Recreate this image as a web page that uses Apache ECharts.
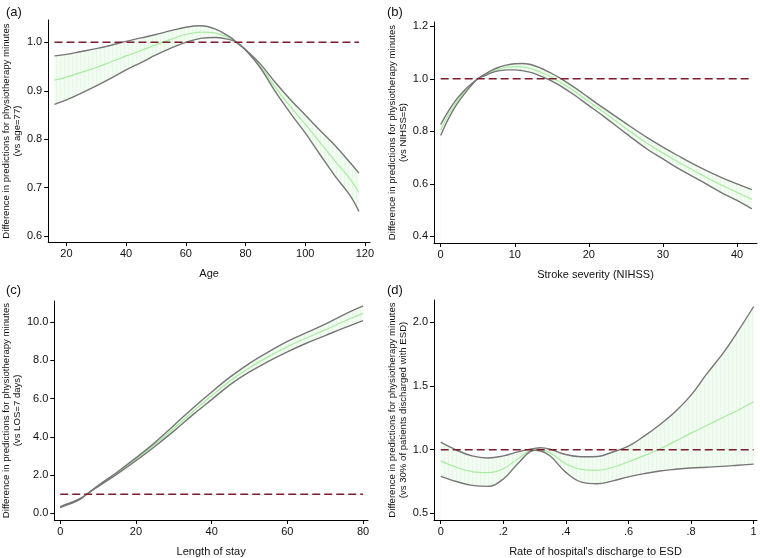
<!DOCTYPE html>
<html>
<head>
<meta charset="utf-8">
<script src="https://cdn.jsdelivr.net/npm/echarts@6/dist/echarts.min.js"></script>
<style>
  html,body{margin:0;padding:0;background:#fff;}
  #main{width:760px;height:558px;}
</style>
</head>
<body>
<div id="main"></div>
<script>
// panel (a) - age
var ageX   = [16,20,25,30,35,40,45,50,55,60,65,70,75,77,80,85,90,95,100,105,110,115,118];
var ageLo  = [0.872,0.881,0.895,0.910,0.926,0.943,0.958,0.974,0.988,1.000,1.008,1.010,1.005,1.0,0.984,0.947,0.898,0.854,0.813,0.768,0.724,0.684,0.651];
var ageMid = [0.922,0.928,0.938,0.948,0.960,0.972,0.983,0.995,1.006,1.016,1.021,1.019,1.008,1.0,0.985,0.951,0.907,0.868,0.831,0.793,0.755,0.718,0.690];
var ageHi  = [0.972,0.975,0.981,0.987,0.994,1.002,1.009,1.016,1.024,1.031,1.034,1.027,1.010,1.0,0.985,0.955,0.917,0.882,0.850,0.818,0.787,0.752,0.730];
var ageXTicks = [20,40,60,80,100,120];
var ageYTicks = [0.6,0.7,0.8,0.9,1.0];

// panel (b) - NIHSS
var nihX   = [0,1,2,3,4,5,6,7,8,9,10,11,12,13,14,15,16,18,20,22,25,28,30,32,35,38,40,42];
var nihLo  = [0.784,0.845,0.895,0.935,0.970,1.0,1.012,1.024,1.031,1.034,1.034,1.031,1.025,1.016,1.004,0.991,0.976,0.939,0.898,0.857,0.792,0.730,0.695,0.660,0.613,0.565,0.537,0.505];
var nihMid = [0.805,0.860,0.906,0.943,0.974,1.0,1.015,1.029,1.038,1.044,1.046,1.045,1.040,1.031,1.019,1.006,0.990,0.954,0.913,0.873,0.811,0.752,0.718,0.684,0.638,0.594,0.568,0.541];
var nihHi  = [0.826,0.875,0.917,0.950,0.977,1.0,1.018,1.034,1.045,1.053,1.057,1.058,1.055,1.046,1.034,1.020,1.004,0.968,0.928,0.888,0.830,0.774,0.740,0.708,0.663,0.623,0.600,0.578];
var nihXTicks = [0,10,20,30,40];
var nihYTicks = [0.4,0.6,0.8,1.0,1.2];

// panel (c) - length of stay
var losX   = [0,2,5,7,10,15,20,25,30,35,40,45,50,55,60,65,70,75,80];
var losLo  = [0.30,0.45,0.70,1.0,1.40,2.05,2.75,3.50,4.30,5.15,5.95,6.75,7.40,7.95,8.45,8.90,9.30,9.70,10.08];
var losMid = [0.32,0.47,0.72,1.0,1.42,2.10,2.82,3.60,4.45,5.32,6.15,6.95,7.62,8.20,8.72,9.17,9.60,10.05,10.46];
var losHi  = [0.35,0.50,0.75,1.0,1.45,2.15,2.90,3.70,4.60,5.50,6.35,7.15,7.85,8.45,9.00,9.45,9.90,10.40,10.85];
var losXTicks = [0,20,40,60,80];
var losYTicks = [0,2,4,6,8,10];

// panel (d) - ESD rate
var esdX   = [0,0.05,0.1,0.15,0.2,0.25,0.3,0.32,0.35,0.4,0.45,0.5,0.55,0.6,0.65,0.7,0.75,0.8,0.85,0.9,0.95,1];
var esdLo  = [0.791,0.750,0.720,0.712,0.770,0.900,0.995,0.990,0.950,0.822,0.745,0.732,0.755,0.787,0.812,0.833,0.846,0.856,0.862,0.869,0.878,0.887];
var esdMid = [0.912,0.862,0.828,0.820,0.850,0.935,1.0,0.998,0.975,0.890,0.845,0.838,0.862,0.905,0.953,1.005,1.067,1.130,1.190,1.250,1.310,1.376];
var esdHi  = [1.059,0.997,0.951,0.935,0.951,0.985,1.010,1.015,1.003,0.962,0.945,0.947,0.982,1.028,1.106,1.196,1.299,1.428,1.595,1.750,1.930,2.124];
var esdXTicks = [0,0.2,0.4,0.6,0.8,1];
var esdYTicks = [0.5,1.0,1.5,2.0];

var refLevel = 1;

var FONT = 'Liberation Sans';

// faint vertical hatching for the CI band
var hatch = document.createElement('canvas');
hatch.width = 4; hatch.height = 4;
var hctx = hatch.getContext('2d');
hctx.fillStyle = '#f3fcf2';
hctx.fillRect(0,0,4,4);
hctx.fillStyle = '#e7f8e4';
hctx.fillRect(0,0,1,4);

function pairs(xs, ys){
  var out = [];
  for(var i=0;i<xs.length;i++){ out.push([xs[i], ys[i]]); }
  return out;
}
function flat(xs, v){
  return [[xs[0], v],[xs[xs.length-1], v]];
}

function xAxisOf(idx, min, max, ticks, name, fmt){
  return {
    type:'value', gridIndex:idx, min:min, max:max, z:10,
    name:name, nameLocation:'middle', nameGap:26,
    nameTextStyle:{fontFamily:FONT, fontSize:11, color:'#111'},
    splitLine:{show:false},
    axisLine:{onZero:false, lineStyle:{color:'#000', width:1}},
    axisTick:{length:4, lineStyle:{color:'#000'}, customValues:ticks},
    axisLabel:{fontFamily:FONT, fontSize:11, color:'#111', margin:6, customValues:ticks, formatter:fmt}
  };
}
function yAxisOf(idx, min, max, ticks, name, gap, fmt){
  return {
    type:'value', gridIndex:idx, min:min, max:max, z:10,
    name:name, nameLocation:'middle', nameGap:gap, nameRotate:90,
    nameTextStyle:{fontFamily:FONT, fontSize:9.6, color:'#111', lineHeight:11},
    splitLine:{show:false},
    axisLine:{show:true, onZero:false, lineStyle:{color:'#000', width:1}},
    axisTick:{show:true, length:4, lineStyle:{color:'#000'}, customValues:ticks},
    axisLabel:{fontFamily:FONT, fontSize:11, color:'#111', margin:6, customValues:ticks, formatter:fmt}
  };
}

// band = hatched area under upper bound, then white area under lower bound on top of it
function panelSeries(idx, xs, lo, mid, hi){
  return [
    {type:'line', xAxisIndex:idx, yAxisIndex:idx, data:pairs(xs, hi), smooth:0.4, symbol:'none',
     lineStyle:{opacity:0}, areaStyle:{color:{image:hatch, repeat:'repeat'}, opacity:1, origin:'start'}, silent:true, z:1},
    {type:'line', xAxisIndex:idx, yAxisIndex:idx, data:pairs(xs, lo), smooth:0.4, symbol:'none',
     lineStyle:{opacity:0}, areaStyle:{color:'#fff', opacity:1, origin:'start'}, silent:true, z:2},
    {type:'line', xAxisIndex:idx, yAxisIndex:idx, data:pairs(xs, mid), smooth:0.4, symbol:'none',
     lineStyle:{color:'#a9eba2', width:1.2}, z:3},
    {type:'line', xAxisIndex:idx, yAxisIndex:idx, data:pairs(xs, lo), smooth:0.4, symbol:'none',
     lineStyle:{color:'#767676', width:1.4}, z:4},
    {type:'line', xAxisIndex:idx, yAxisIndex:idx, data:pairs(xs, hi), smooth:0.4, symbol:'none',
     lineStyle:{color:'#767676', width:1.4}, z:4},
    {type:'line', xAxisIndex:idx, yAxisIndex:idx, data:flat(xs, refLevel), symbol:'none',
     lineStyle:{color:'#7b1d2c', width:1.4, type:[8,4]}, z:5}
  ];
}

var f1 = function(v){ return v.toFixed(1); };
var f0 = function(v){ return String(v); };
var fEsd = function(v){ return (v===0||v===1) ? String(v) : v.toFixed(1).replace(/^0/, ''); };

var yName = 'Difference in predictions for physiotherapy minutes';

var myChart = echarts.init(document.getElementById('main'), null, {renderer:'canvas'});
var option = {
  animation:false,
  backgroundColor:'#fff',
  textStyle:{fontFamily:FONT},
  title:[
    {text:'(a)', left:1, top:1, textStyle:{fontFamily:FONT, fontSize:13, fontWeight:'normal', color:'#111'}},
    {text:'(b)', left:382, top:1, textStyle:{fontFamily:FONT, fontSize:13, fontWeight:'normal', color:'#111'}},
    {text:'(c)', left:1, top:279, textStyle:{fontFamily:FONT, fontSize:13, fontWeight:'normal', color:'#111'}},
    {text:'(d)', left:382, top:279, textStyle:{fontFamily:FONT, fontSize:13, fontWeight:'normal', color:'#111'}}
  ],
  grid:[
    {left:45, right:390, top:20, bottom:316},
    {left:434, right:3, top:22, bottom:315},
    {left:51, right:392, top:301, bottom:35},
    {left:434, right:3, top:300, bottom:35}
  ],
  xAxis:[
    xAxisOf(0, 13.9, 121.7, ageXTicks, 'Age', f0),
    xAxisOf(1, -0.9, 42.7, nihXTicks, 'Stroke severity (NIHSS)', f0),
    xAxisOf(2, -1.56, 81.3, losXTicks, 'Length of stay', f0),
    xAxisOf(3, -0.0215, 1.0107, esdXTicks, "Rate of hospital's discharge to ESD", fEsd)
  ],
  yAxis:[
    yAxisOf(0, 0.588, 1.046, ageYTicks, yName+'\n(vs age=77)', 18, f1),
    yAxisOf(1, 0.375, 1.216, nihYTicks, yName+'\n(vs NIHSS=5)', 20, f1),
    yAxisOf(2, -0.35, 11.11, losYTicks, yName+'\n(vs LOS=7 days)', 24, f1),
    yAxisOf(3, 0.448, 2.175, esdYTicks, yName+'\n(vs 30% of patients discharged with ESD)', 19, f1)
  ],
  series: [].concat(
    panelSeries(0, ageX, ageLo, ageMid, ageHi),
    panelSeries(1, nihX, nihLo, nihMid, nihHi),
    panelSeries(2, losX, losLo, losMid, losHi),
    panelSeries(3, esdX, esdLo, esdMid, esdHi)
  )
};
myChart.setOption(option);
</script>
</body>
</html>
